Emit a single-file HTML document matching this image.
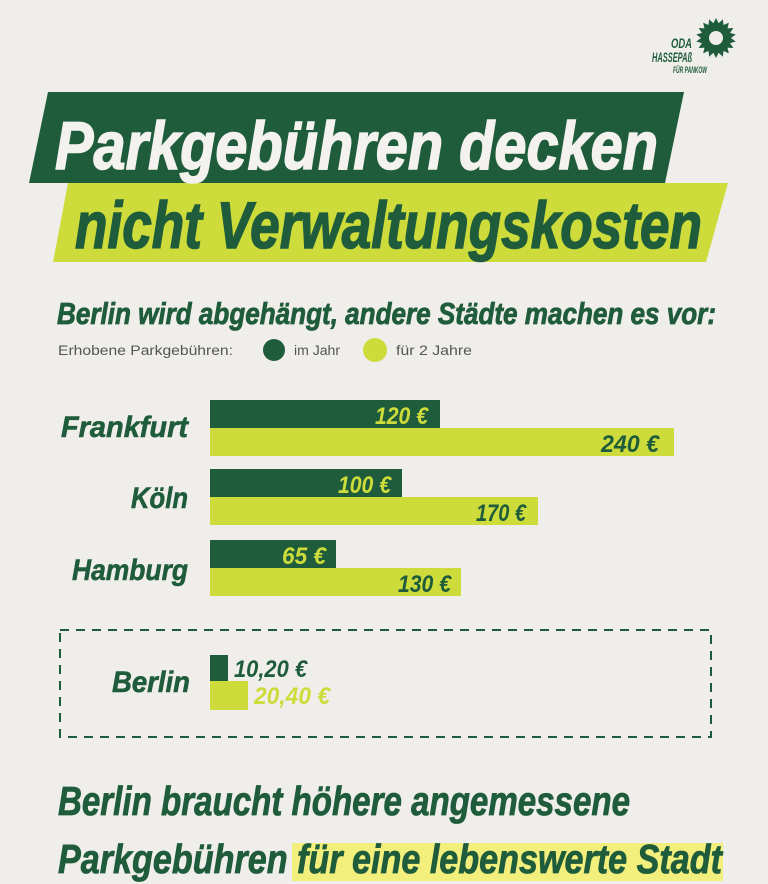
<!DOCTYPE html>
<html><head><meta charset="utf-8"><style>
html,body{margin:0;padding:0;background:#f0eeea;}
svg{display:block;}
text{font-family:"Liberation Sans",sans-serif;font-weight:bold;font-style:italic;}
.n{font-weight:normal;font-style:normal;}
</style></head><body>
<svg width="768" height="884" viewBox="0 0 768 884" xmlns="http://www.w3.org/2000/svg">
<rect width="768" height="884" fill="#f0eeea"/>
<!-- logo -->
<g transform="translate(716,38)" fill="#1f5c3c">
<circle r="15"/>
<g id="p"><polygon points="-3,-14 3,-14 0,-20"/></g>
<use href="#p" transform="rotate(20)"/><use href="#p" transform="rotate(40)"/><use href="#p" transform="rotate(60)"/><use href="#p" transform="rotate(80)"/><use href="#p" transform="rotate(100)"/><use href="#p" transform="rotate(120)"/><use href="#p" transform="rotate(140)"/><use href="#p" transform="rotate(160)"/><use href="#p" transform="rotate(180)"/><use href="#p" transform="rotate(200)"/><use href="#p" transform="rotate(220)"/><use href="#p" transform="rotate(240)"/><use href="#p" transform="rotate(260)"/><use href="#p" transform="rotate(280)"/><use href="#p" transform="rotate(300)"/><use href="#p" transform="rotate(320)"/><use href="#p" transform="rotate(340)"/>
<circle r="7" fill="#f0eeea"/>
</g>
<text x="671" y="48" font-size="14" fill="#1f5c3c" textLength="21" lengthAdjust="spacingAndGlyphs">ODA</text>
<text x="652" y="62" font-size="14" fill="#1f5c3c" textLength="40" lengthAdjust="spacingAndGlyphs">HASSEPAß</text>
<text x="673" y="73" font-size="9" fill="#1f5c3c" textLength="34" lengthAdjust="spacingAndGlyphs">FÜR PANKOW</text>
<!-- banners -->
<polygon points="48,92 684,92 665,183 29,183" fill="#1f5c3c"/>
<polygon points="68,183 728,183 706,262 53,262" fill="#cddc3a"/>
<text x="55" y="169" font-size="68" fill="#f4f2ee" stroke="#f4f2ee" stroke-width="1.5" textLength="603" lengthAdjust="spacingAndGlyphs">Parkgebühren decken</text>
<text x="75" y="248" font-size="66" fill="#1f5c3c" stroke="#1f5c3c" stroke-width="1.5" textLength="627" lengthAdjust="spacingAndGlyphs">nicht Verwaltungskosten</text>
<!-- subtitle -->
<text x="57" y="324" font-size="31" fill="#1f5c3c" stroke="#1f5c3c" stroke-width="0.8" textLength="659" lengthAdjust="spacingAndGlyphs">Berlin wird abgehängt, andere Städte machen es vor:</text>
<text class="n" x="58" y="355" font-size="13.5" fill="#555" textLength="175" lengthAdjust="spacingAndGlyphs">Erhobene Parkgebühren:</text>
<circle cx="274" cy="350" r="11" fill="#1f5c3c"/>
<text class="n" x="294" y="355" font-size="13.5" fill="#555" textLength="46" lengthAdjust="spacingAndGlyphs">im Jahr</text>
<circle cx="375" cy="350" r="12" fill="#cddc3a"/>
<text class="n" x="396" y="355" font-size="13.5" fill="#555" textLength="76" lengthAdjust="spacingAndGlyphs">für 2 Jahre</text>
<!-- bars -->
<rect x="210" y="400" width="230" height="28" fill="#1f5c3c"/>
<rect x="210" y="428" width="464" height="28" fill="#cddc3a"/>
<rect x="210" y="469" width="192" height="28" fill="#1f5c3c"/>
<rect x="210" y="497" width="328" height="28" fill="#cddc3a"/>
<rect x="210" y="540" width="126" height="28" fill="#1f5c3c"/>
<rect x="210" y="568" width="251" height="28" fill="#cddc3a"/>
<g font-size="30" fill="#1f5c3c" stroke="#1f5c3c" stroke-width="0.6">
<text x="61" y="437" textLength="127" lengthAdjust="spacingAndGlyphs">Frankfurt</text>
<text x="131" y="508" textLength="57" lengthAdjust="spacingAndGlyphs">Köln</text>
<text x="72" y="580" textLength="116" lengthAdjust="spacingAndGlyphs">Hamburg</text>
</g>
<g font-size="24">
<text x="375" y="424" fill="#cddc3a" textLength="53" lengthAdjust="spacingAndGlyphs">120 €</text>
<text x="601" y="452" fill="#1f5c3c" textLength="58" lengthAdjust="spacingAndGlyphs">240 €</text>
<text x="338" y="493" fill="#cddc3a" textLength="53" lengthAdjust="spacingAndGlyphs">100 €</text>
<text x="476" y="521" fill="#1f5c3c" textLength="50" lengthAdjust="spacingAndGlyphs">170 €</text>
<text x="282" y="564" fill="#cddc3a" textLength="44" lengthAdjust="spacingAndGlyphs">65 €</text>
<text x="398" y="592" fill="#1f5c3c" textLength="53" lengthAdjust="spacingAndGlyphs">130 €</text>
</g>
<!-- berlin box -->
<rect x="60" y="630" width="651" height="107" fill="none" stroke="#1f5c3c" stroke-width="2" stroke-dasharray="9,7"/>
<text x="112" y="692" font-size="30" fill="#1f5c3c" stroke="#1f5c3c" stroke-width="0.6" textLength="78" lengthAdjust="spacingAndGlyphs">Berlin</text>
<rect x="210" y="655" width="18" height="26" fill="#1f5c3c"/>
<rect x="210" y="681" width="38" height="29" fill="#cddc3a"/>
<text x="234" y="677" font-size="24" fill="#1f5c3c" textLength="73" lengthAdjust="spacingAndGlyphs">10,20 €</text>
<text x="254" y="704" font-size="24" fill="#cddc3a" textLength="76" lengthAdjust="spacingAndGlyphs">20,40 €</text>
<!-- bottom -->
<rect x="292" y="843" width="431" height="38" fill="#f3ef7c"/>
<text x="58" y="815" font-size="41" fill="#1f5c3c" stroke="#1f5c3c" stroke-width="0.8" textLength="572" lengthAdjust="spacingAndGlyphs">Berlin braucht höhere angemessene</text>
<text x="58" y="873" font-size="41" fill="#1f5c3c" stroke="#1f5c3c" stroke-width="0.8" textLength="664" lengthAdjust="spacingAndGlyphs">Parkgebühren für eine lebenswerte Stadt</text>
</svg>
</body></html>
